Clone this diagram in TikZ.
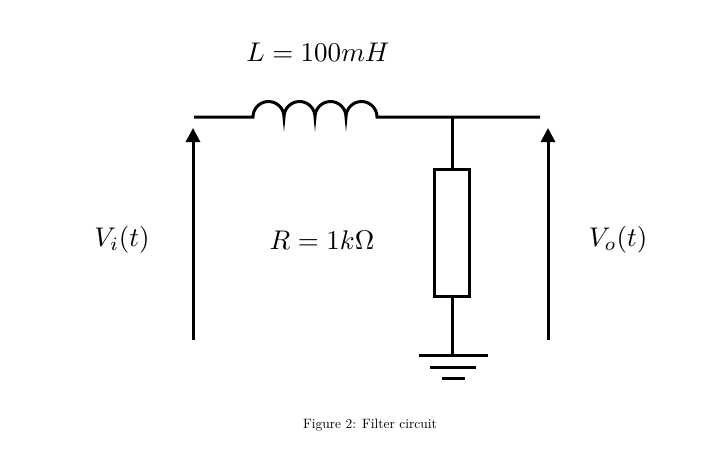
\documentclass[tikz,border=0pt]{standalone}
\usetikzlibrary{arrows.meta}
\begin{document}
\begin{tikzpicture}[x=1pt,y=-1pt,
  wire/.style={line width=3pt},
  varrow/.style={line width=3pt,-{Triangle[length=14pt,width=14pt]}},
  lbl/.style={scale=2.7}]
\useasboundingbox (0,0) rectangle (721,467);
\coordinate (A) at (194,117);
\coordinate (L1) at (253,117);
\coordinate (L2) at (377,117);
\coordinate (J) at (452,117);
\coordinate (B) at (540,117);
\coordinate (G) at (452,355);
\draw[wire] (A) -- (L1)
  arc[start angle=180,end angle=360,radius=15.5]
  arc[start angle=180,end angle=360,radius=15.5]
  arc[start angle=180,end angle=360,radius=15.5]
  arc[start angle=180,end angle=360,radius=15.5] -- (B);
\node[draw,line width=3pt,minimum width=35pt,minimum height=127pt,inner sep=0pt] (R) at (452,233) {};
\draw[wire] (J) -- (R.north);
\draw[wire] (R.south) -- (G);
\draw[wire] (419,355) -- (488,355);
\draw[wire] (430,367) -- (476,367);
\draw[wire] (442,378) -- (465,378);
\coordinate (ib) at (193,340); \coordinate (it) at (193,128);
\coordinate (ob) at (548,340); \coordinate (ot) at (548,128);
\draw[varrow] (ib) -- (it);
\draw[varrow] (ob) -- (ot);
\node[lbl] (lL) at (318,52) {$L = 100mH$};
\node[lbl] (lR) at (322,240) {$R = 1k\Omega$};
\node[lbl] (lVi) at (122,240) {$V_i(t)$};
\node[lbl] (lVo) at (618,240) {$V_o(t)$};
\node[scale=1.35] (cap) at (370,425) {Figure 2: Filter circuit};
\end{tikzpicture}
\end{document}
